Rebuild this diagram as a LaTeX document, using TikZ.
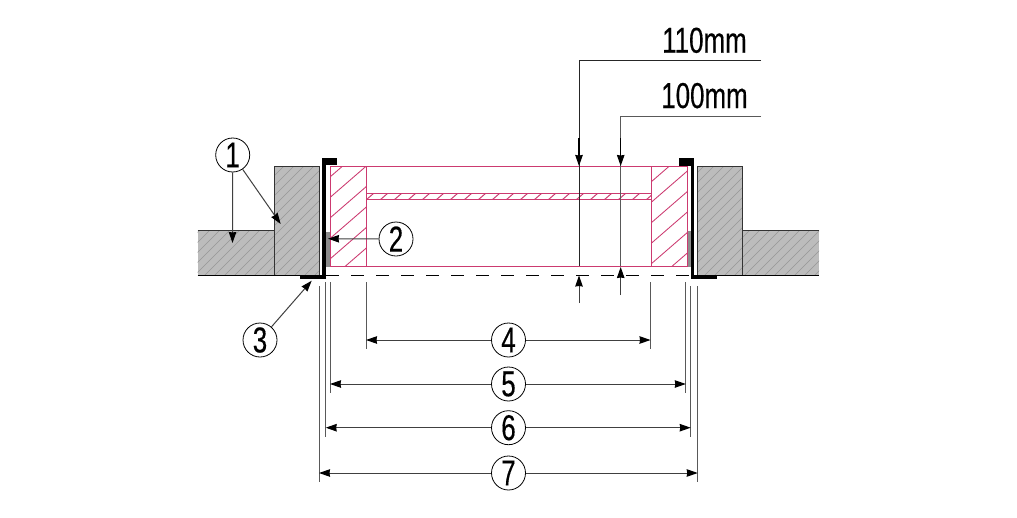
\documentclass[tikz,border=0pt]{standalone}
\usepackage{fontspec}
\setmainfont[FakeStretch=0.72,FakeBold=0.3]{Liberation Sans}
\usetikzlibrary{arrows.meta}
\definecolor{wallgrey}{HTML}{BCBCBC}
\definecolor{hatchgrey}{HTML}{979797}
\definecolor{framepink}{HTML}{CC3A70}
\definecolor{patchgrey}{HTML}{8C8C8C}
\tikzset{
  frameline/.style={draw=framepink,line width=1pt},
  hatchpink/.style={draw=framepink,line width=0.85pt},
  hatchwall/.style={draw=hatchgrey,line width=0.45pt},
  dimline/.style={draw=black!65,line width=1pt},
  flange/.style={fill=black,draw=none},
  arrowline/.style={draw=black!75,line width=1pt,-{Stealth[length=11pt,width=7.5pt,inset=0.5pt,color=black,fill=black]}},
  shaftarrow/.style={draw=black,line width=1.2pt,-{Stealth[length=11pt,width=7.5pt,inset=0.5pt,color=black,fill=black]}},
  callout/.style={circle,draw=black,line width=0.8pt,fill=white,minimum size=34pt,inner sep=0pt,font=\fontsize{36}{36}\selectfont},
  dimtext/.style={anchor=base,inner sep=0pt,font=\fontsize{36}{36}\selectfont}
}
\begin{document}
\begin{tikzpicture}[x=1pt,y=-1pt]
\useasboundingbox (0,0) rectangle (1017,517);
\fill[white] (0,0) rectangle (1017,517);

% walls
\foreach \xa/\ya/\xb/\yb in {197.5/230.5/274/275, 274/166.5/319/275, 697.5/166.5/742.5/275, 742.5/230.5/819/275}{
  \fill[wallgrey] (\xa,\ya) rectangle (\xb,\yb);
  \begin{scope}
    \clip (\xa,\ya) rectangle (\xb,\yb);
    \foreach \k in {0,10,...,1100}{ \draw[hatchwall] (\k,300) -- ++(150,-150); }
  \end{scope}
}
\draw[black!80,line width=0.9pt] (197.5,230.5) -- (274,230.5) (274,275) -- (274,166.5) -- (319,166.5) -- (319,275);
\draw[black!80,line width=0.9pt] (697.5,275) -- (697.5,166.5) -- (742.5,166.5) -- (742.5,275) (742.5,230.5) -- (819,230.5);
\draw[black,line width=1pt] (197.5,275.3) -- (319,275.3) (697.5,275.3) -- (819,275.3);

% grey patches
\fill[patchgrey] (325.5,231.5) rectangle (330,266.5);
\fill[patchgrey] (686.8,231) rectangle (691.2,266.5);

% pink hatching
\begin{scope}
  \clip (330,166.5) rectangle (366,266.5);
  \foreach \k in {-10,10.5,...,130}{ \draw[hatchpink] (330,166.5+\k) -- ++(60,-52); }
\end{scope}
\begin{scope}
  \clip (651,166.5) rectangle (687,266.5);
  \foreach \k in {-5,15.5,...,135}{ \draw[hatchpink] (651,166.5+\k) -- ++(60,-52); }
\end{scope}
\begin{scope}
  \clip (366,193.5) rectangle (651,199.5);
  \foreach \k in {366,380,...,651}{ \draw[draw=framepink,line width=1pt] (\k,200) -- ++(8,-7); }
\end{scope}

% frame
\draw[frameline] (330,166.5) rectangle (687,266.5);
\draw[frameline] (366,166.5) -- (366,266.5) (651,166.5) -- (651,266.5);
\draw[frameline] (366,193.5) rectangle (651,199.5);

% dashed opening line
\draw[black,line width=1pt,dash pattern=on 13pt off 12pt] (326,275.3) -- (691,275.3);

% steel angles
\fill[flange] (322.2,158) rectangle (337,165);
\fill[flange] (322.2,158) rectangle (325.8,279);
\fill[flange] (300,275) rectangle (325.8,279);
\fill[flange] (679,158) rectangle (694.3,165.5);
\fill[flange] (690.8,158) rectangle (694.3,279);
\fill[flange] (690.8,275.3) rectangle (717,279);

% extension lines
\draw[dimline] (366,282) -- (366,349) (650.5,282) -- (650.5,349);
\draw[dimline] (330,282) -- (330,393) (685.8,282) -- (685.8,393);
\draw[dimline] (325.7,282) -- (325.7,437) (690.7,286) -- (690.7,437);
\draw[dimline] (319,286) -- (319,482) (697.7,286) -- (697.7,482);

% named end points
\coordinate (a4l) at (366,340); \coordinate (a4r) at (650.5,340);
\coordinate (a5l) at (330,384); \coordinate (a5r) at (685.8,384);
\coordinate (a6l) at (325.7,427.7); \coordinate (a6r) at (690.7,427.7);
\coordinate (a7l) at (319,473); \coordinate (a7r) at (697.7,473);
\coordinate (t1a) at (232.5,243); \coordinate (t1b) at (280.7,224);
\coordinate (t2) at (328,238.7); \coordinate (t3) at (311.7,280.7);
\coordinate (lead110) at (761,60.3); \coordinate (knee110) at (579,60.3);
\coordinate (lead100) at (761,116); \coordinate (knee100) at (620.7,116);
\coordinate (shaft110) at (579,138); \coordinate (shaft100) at (620.7,138);
\coordinate (top110) at (579,166); \coordinate (top100) at (620.7,166);
\coordinate (end110) at (579,266); \coordinate (end100) at (620.7,266);
\coordinate (low110) at (579,303); \coordinate (low100) at (620.7,295);
\coordinate (tip110) at (579,275.5); \coordinate (tip100) at (620.7,267);

% callouts
\node[callout] (c1) at (232.7,155) {1};
\node[callout] (c2) at (396,239) {2};
\node[callout] (c3) at (260,340) {3};
\node[callout] (c4) at (508.5,340) {4};
\node[callout] (c5) at (508.5,384) {5};
\node[callout] (c6) at (508.5,427.7) {6};
\node[callout] (c7) at (508.5,473) {7};

\draw[arrowline] (c1) -- (t1a);
\draw[arrowline] (c1) -- (t1b);
\draw[arrowline] (c2) -- (t2);
\draw[arrowline] (c3) -- (t3);
\foreach \n in {4,5,6,7}{
  \draw[arrowline] (c\n) -- (a\n l);
  \draw[arrowline] (c\n) -- (a\n r);
}

% leaders
\draw[dimline,draw=black!85] (lead110) -- (knee110) -- (end110);
\draw[dimline] (lead100) -- (knee100) -- (end100);
\draw[shaftarrow] (shaft110) -- (top110);
\draw[shaftarrow] (shaft100) -- (top100);
\draw[arrowline] (low110) -- (tip110);
\draw[arrowline] (low100) -- (tip100);

\node[dimtext] (m110) at (704.5,52.7) {110mm};
\node[dimtext] (m100) at (704.5,108) {100mm};
\end{tikzpicture}
\end{document}
